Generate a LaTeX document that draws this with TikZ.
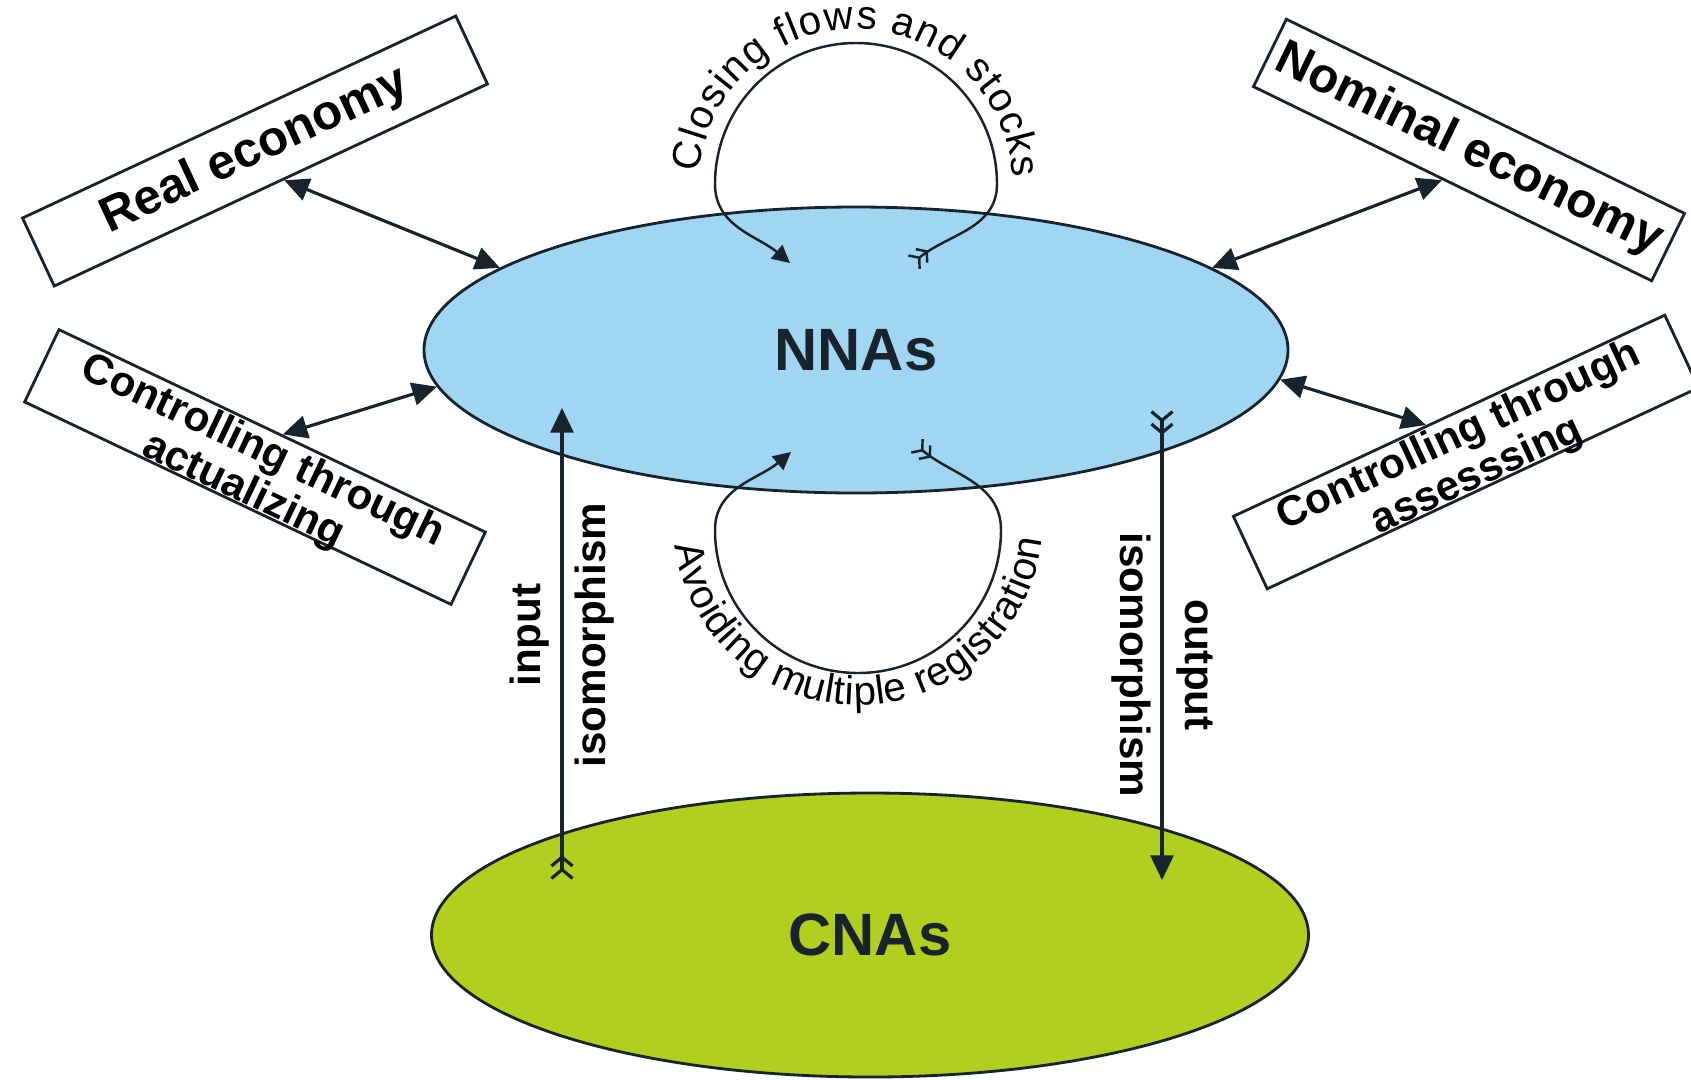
\documentclass[tikz,border=0pt]{standalone}
\usepackage{fontspec}
\setmainfont{Liberation Sans}
\usepackage{xcolor}
\usepackage{tikz}
\usetikzlibrary{shapes.geometric, arrows.meta, positioning, calc, decorations.text}

\definecolor{nnablue}{RGB}{160,214,242}
\definecolor{cnagreen}{RGB}{178,206,30}
\definecolor{inkdark}{RGB}{25,35,45}

\begin{document}
\begin{tikzpicture}[
        base/.style={draw=inkdark, line width=0.8pt, inner sep=0pt},
        ecobox/.style={base, minimum height=0.75cm, font=\fontsize{14}{16}\selectfont\bfseries},
        ctrlbox/.style={base, minimum height=0.8cm},
        ctrltext/.style={align=center, inner sep=0pt, font=\fontsize{12}{12.5}\selectfont\bfseries},
        accounts/.style={ellipse, draw=inkdark, line width=0.8pt, font=\fontsize{17}{20}\selectfont\bfseries, text=inkdark},
        iso/.style={align=center, inner sep=0pt, font=\fontsize{12}{18.5}\selectfont\bfseries},
        arrow/.style={draw=inkdark, line width=0.9pt, {Triangle[length=7pt,width=6.5pt]}-{Triangle[length=7pt,width=6.5pt]}},
        isoflow/.style={draw=inkdark, line width=0.9pt, {Straight Barb[reversed,length=2.5pt,width=6pt] Straight Barb[reversed,length=2.5pt,width=6pt]}-{Triangle[length=7pt,width=6.5pt]}},
        cycleflow/.style={draw=inkdark, line width=0.7pt, {Straight Barb[reversed,length=2pt,width=5pt] Straight Barb[reversed,length=2pt,width=5pt]}-{Triangle[length=5pt,width=5pt]}},
        arctext/.style={decorate, decoration={text along path, text align={fit to path}, text={|\fontsize{11.5}{13}\selectfont|#1}}}
    ]

        \useasboundingbox (0,0) rectangle (16.91,-10.79);

        % Ellipses
        \node[accounts, fill=nnablue, minimum width=8.64cm, minimum height=2.86cm] (nna) at (8.56,-3.50) {NNAs};
        \node[accounts, fill=cnagreen, minimum width=8.77cm, minimum height=2.84cm] (cna) at (8.70,-9.35) {CNAs};

        % Boxes
        \node[ecobox, rotate=25, minimum width=4.78cm] (real) at (2.55,-1.51) {Real economy};
        \node[ecobox, rotate=-26, minimum width=4.43cm] (nom) at (14.69,-1.50) {Nominal economy};
        \node[ctrlbox, rotate=-25.4, minimum width=4.72cm] (act) at (2.55,-4.67) {};
        \node[ctrltext, rotate=-25.4] (acttxt) at ($(act.center)!0.12!(act.south)$) {Controlling through\\actualizing};
        \node[ctrlbox, rotate=25, minimum width=4.76cm] (ass) at (14.66,-4.52) {};
        \node[ctrltext, rotate=25] (asstxt) at ($(ass.center)!0.12!(ass.south)$) {Controlling through\\assesssing};

        % Isomorphism labels
        \node[iso, rotate=90] (inlab) at (5.62,-6.35) {input\\isomorphism};
        \node[iso, rotate=-90] (outlab) at (11.62,-6.65) {output\\isomorphism};

        % Ends of the flows
        \coordinate (inlow) at (5.62,-8.80);
        \coordinate (inhigh) at (5.62,-4.08);
        \coordinate (outhigh) at (11.62,-4.10);
        \coordinate (outlow) at (11.62,-8.80);
        \coordinate (cltail) at (9.13,-2.63);
        \coordinate (clhead) at (7.90,-2.63);
        \coordinate (avtail) at (9.16,-4.45);
        \coordinate (avhead) at (7.91,-4.52);

        % Arrows
        \draw[arrow] (real.-70) -- (nna.167);
        \draw[arrow] (nom.-106) -- (nna.13);
        \draw[arrow] (act.75) -- (nna.185);
        \draw[arrow] (nna.-4) -- (ass.121);
        \draw[isoflow] (inlow) -- (inhigh);
        \draw[isoflow] (outhigh) -- (outlow);
        \draw[cycleflow] (cltail) to[out=40,in=-90] (9.97,-1.84) arc[start angle=0,end angle=180,radius=1.41] to[out=-90,in=140] (clhead);
        \draw[cycleflow] (avtail) to[out=-40,in=90] (10.01,-5.30) arc[start angle=0,end angle=-180,radius=1.43] to[out=90,in=-140] (avhead);

        % Texts on the loops
        \path[arctext={Closing flows and stocks}] (8.56,-1.86) ++(175:1.57) arc[start angle=175,end angle=3,radius=1.57];
        \path[arctext={Avoiding multiple registration}] (8.58,-5.20) ++(188:1.85) arc[start angle=188,end angle=354,radius=1.85];

    \end{tikzpicture}
\end{document}
